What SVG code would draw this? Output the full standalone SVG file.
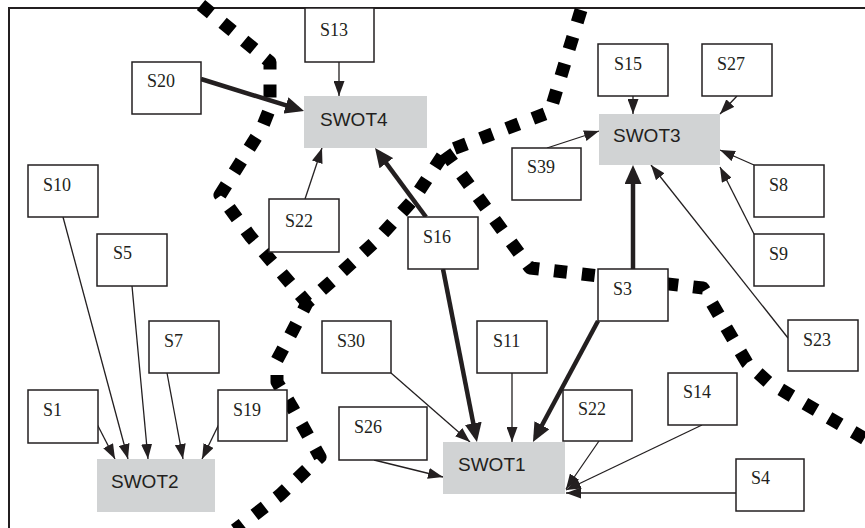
<svg xmlns="http://www.w3.org/2000/svg" width="865" height="528" viewBox="0 0 865 528">
<style>
.frame{fill:none;stroke:#231f20;stroke-width:2}
.dot{fill:none;stroke:#000;stroke-width:13;stroke-dasharray:13 15;stroke-linejoin:round}
.box rect{fill:#fff;stroke:#231f20;stroke-width:1.5}
.box text{font-family:"Liberation Serif","Times New Roman",serif;font-size:18px;fill:#231f20}
.swot rect{fill:#d1d3d4;stroke:none}
.swot text{font-family:"Liberation Sans",Arial,sans-serif;font-size:19px;fill:#231f20}
.thin{stroke:#231f20;stroke-width:1.3;fill:none;marker-end:url(#ah)}
.thick{stroke:#231f20;stroke-width:4.5;fill:none;marker-end:url(#ahb)}
</style>
<defs>
<marker id="ah" markerUnits="userSpaceOnUse" markerWidth="15" markerHeight="11" refX="15" refY="5.5" orient="auto"><path d="M0,0 L15,5.5 L0,11 z" fill="#231f20"/></marker>
<marker id="ahb" markerUnits="userSpaceOnUse" markerWidth="19" markerHeight="17" refX="13" refY="8.5" orient="auto"><path d="M0,0 L19,8.5 L0,17 z" fill="#231f20"/></marker>
</defs>
<path class="frame" d="M9,528 L9,8 L865,8"/>
<g id="boundaries">
<path class="dot" d="M201,5 L270,62 L270,108 L262,128 L220,195 L250,236 L307,303"/>
<path class="dot" d="M581,10 L550,112 L445,152 L413,200 L377,240 L333,280 L307,303 L292,332 L277,360 L277,382 L292,407 L320,457 L280,495 L235,530"/>
<path class="dot" d="M445,152 L530,268 L703,288 L747,363 L768,382 L872,443"/>
</g>
<g id="connectors">
<line class="thin" x1="63" y1="217" x2="128" y2="459"/>
<line class="thin" x1="132" y1="286" x2="148" y2="459"/>
<line class="thin" x1="167" y1="373" x2="183" y2="459"/>
<line class="thin" x1="97" y1="424" x2="115" y2="459"/>
<line class="thin" x1="219" y1="424" x2="202" y2="459"/>
<line class="thin" x1="339" y1="62" x2="339" y2="96"/>
<line class="thin" x1="305" y1="199" x2="322" y2="148"/>
<line class="thin" x1="391" y1="373" x2="470" y2="442"/>
<line class="thin" x1="512" y1="373" x2="512" y2="442"/>
<line class="thin" x1="374" y1="460" x2="443" y2="477"/>
<line class="thin" x1="599" y1="441" x2="566" y2="489"/>
<line class="thin" x1="702" y1="425" x2="566" y2="490"/>
<line class="thin" x1="736" y1="493" x2="566" y2="493"/>
<line class="thin" x1="547" y1="148" x2="599" y2="131"/>
<line class="thin" x1="633" y1="96" x2="633" y2="114"/>
<line class="thin" x1="737" y1="96" x2="720" y2="114"/>
<line class="thin" x1="754" y1="165" x2="720" y2="150"/>
<line class="thin" x1="754" y1="234" x2="720" y2="167"/>
<line class="thin" x1="788" y1="338" x2="651" y2="165"/>
<line class="thick" x1="201" y1="79" x2="298.3" y2="109.2"/>
<line class="thick" x1="426" y1="217" x2="378.6" y2="152.8"/>
<line class="thick" x1="443" y1="269" x2="475.8" y2="436.1"/>
<line class="thick" x1="598" y1="321" x2="535.8" y2="436.7"/>
<line class="thick" x1="633" y1="269" x2="633" y2="171"/>
</g>
<g id="S20" class="box"><rect x="132" y="62" width="69" height="52"/><text x="147" y="87">S20</text></g>
<g id="S10" class="box"><rect x="28" y="165" width="70" height="52"/><text x="43" y="191">S10</text></g>
<g id="S5" class="box"><rect x="97" y="234" width="70" height="52"/><text x="113" y="259">S5</text></g>
<g id="S13" class="box"><rect x="305" y="8" width="69" height="54"/><text x="320" y="36">S13</text></g>
<g id="S22a" class="box"><rect x="269" y="199" width="70" height="53"/><text x="285" y="227">S22</text></g>
<g id="S16" class="box"><rect x="408" y="217" width="70" height="52"/><text x="423" y="243">S16</text></g>
<g id="S39" class="box"><rect x="512" y="148" width="69" height="52"/><text x="527" y="173">S39</text></g>
<g id="S15" class="box"><rect x="598" y="44" width="70" height="52"/><text x="614" y="70">S15</text></g>
<g id="S27" class="box"><rect x="702" y="44" width="70" height="52"/><text x="717" y="70">S27</text></g>
<g id="S8" class="box"><rect x="754" y="165" width="70" height="52"/><text x="769" y="191">S8</text></g>
<g id="S9" class="box"><rect x="754" y="234" width="70" height="52"/><text x="769" y="260">S9</text></g>
<g id="S23" class="box"><rect x="788" y="320" width="70" height="51"/><text x="803" y="346">S23</text></g>
<g id="S3" class="box"><rect x="598" y="269" width="70" height="52"/><text x="613" y="295">S3</text></g>
<g id="S14" class="box"><rect x="668" y="373" width="69" height="52"/><text x="683" y="398">S14</text></g>
<g id="S22b" class="box"><rect x="563" y="390" width="69" height="51"/><text x="578" y="415">S22</text></g>
<g id="S4" class="box"><rect x="736" y="459" width="68" height="52"/><text x="751" y="484">S4</text></g>
<g id="S30" class="box"><rect x="322" y="321" width="69" height="52"/><text x="337" y="347">S30</text></g>
<g id="S11" class="box"><rect x="477" y="321" width="70" height="52"/><text x="493" y="347">S11</text></g>
<g id="S26" class="box"><rect x="339" y="407" width="88" height="53"/><text x="354" y="433">S26</text></g>
<g id="S7" class="box"><rect x="149" y="321" width="70" height="52"/><text x="164" y="347">S7</text></g>
<g id="S1" class="box"><rect x="28" y="390" width="70" height="53"/><text x="43" y="416">S1</text></g>
<g id="S19" class="box"><rect x="218" y="390" width="69" height="51"/><text x="233" y="416">S19</text></g>
<g id="SWOT4" class="swot"><rect x="304" y="96" width="123" height="52"/><text x="320" y="126">SWOT4</text></g>
<g id="SWOT3" class="swot"><rect x="599" y="114" width="121" height="51"/><text x="613" y="142">SWOT3</text></g>
<g id="SWOT1" class="swot"><rect x="443" y="442" width="122" height="52"/><text x="458" y="471">SWOT1</text></g>
<g id="SWOT2" class="swot"><rect x="97" y="459" width="118" height="53"/><text x="111" y="488">SWOT2</text></g>
</svg>
